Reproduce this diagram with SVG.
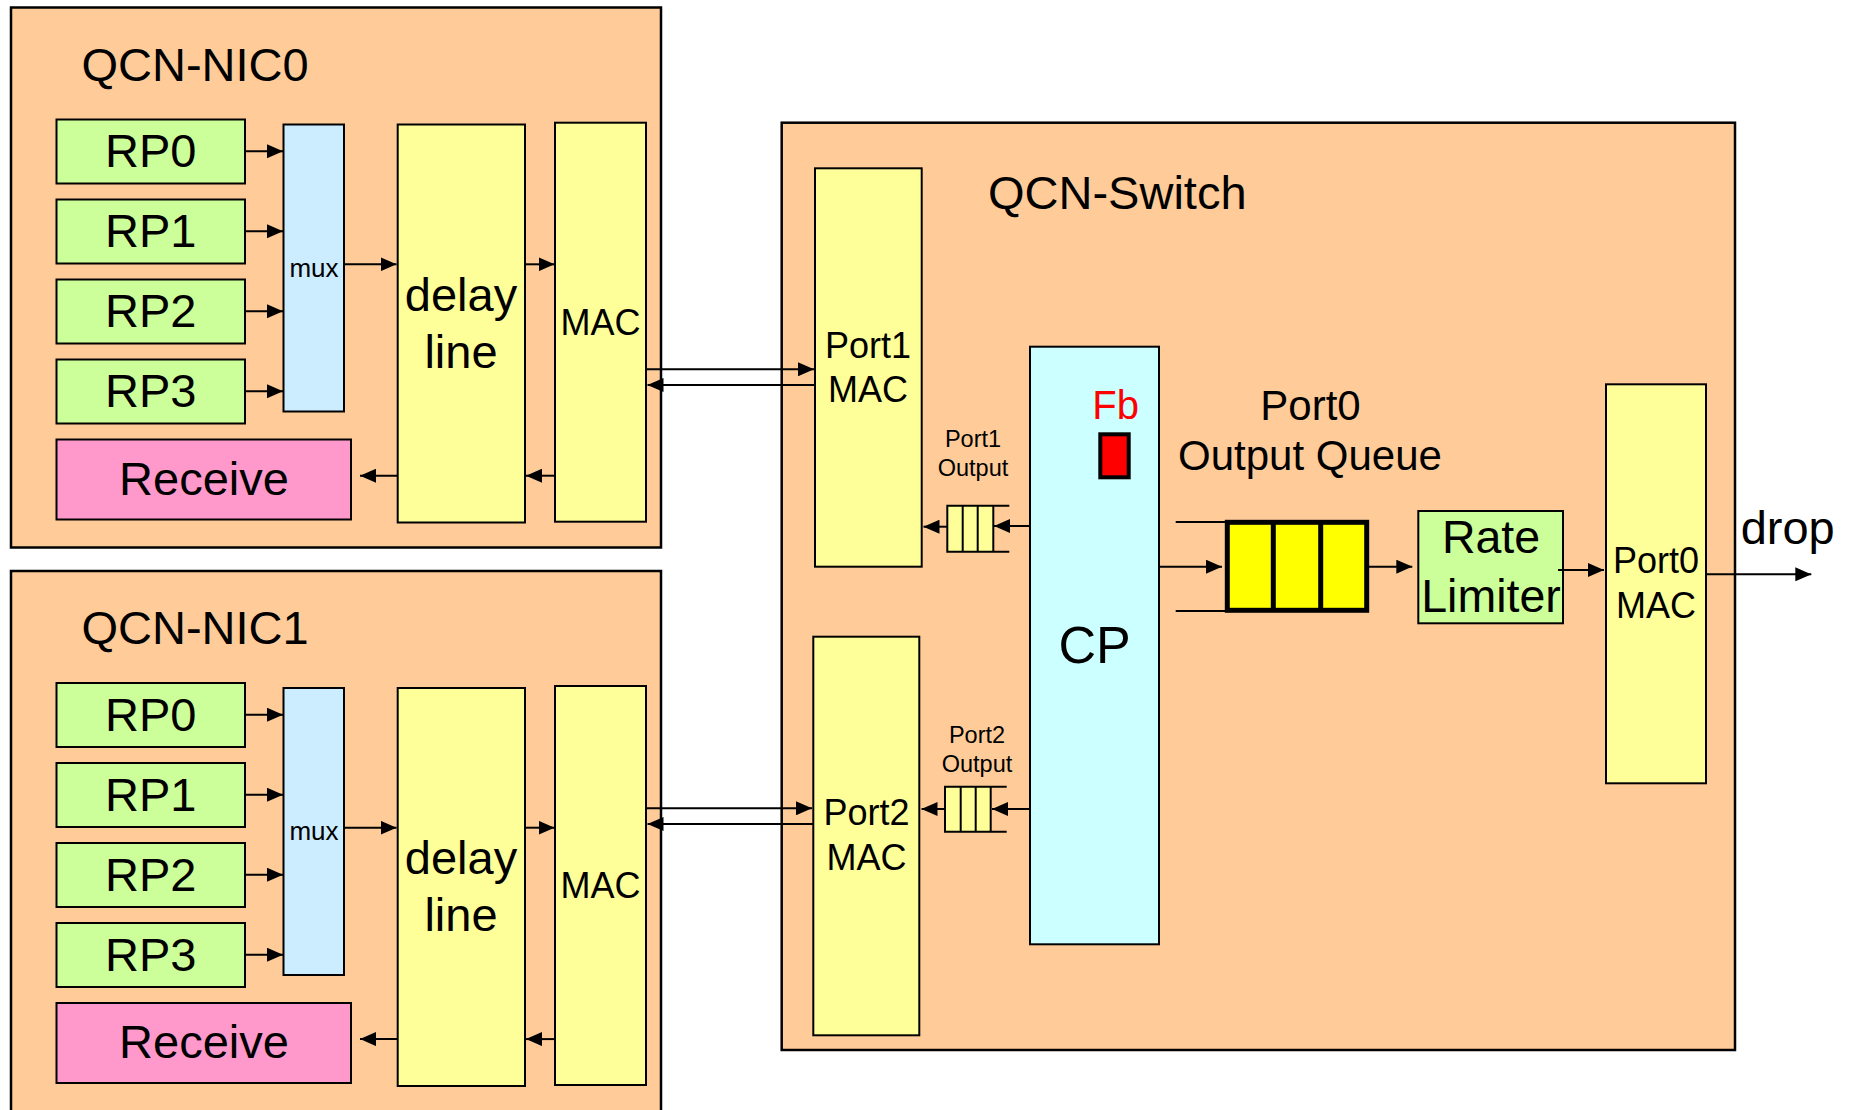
<svg xmlns="http://www.w3.org/2000/svg" width="1854" height="1110" viewBox="0 0 1854 1110">
<defs>
<marker id="ah" viewBox="0 0 16 14" refX="16" refY="7" markerWidth="16" markerHeight="14" markerUnits="userSpaceOnUse" orient="auto">
<path d="M0,0 L16,7 L0,14 z" fill="#000"/>
</marker>
</defs>
<style>
text{font-family:"Liberation Sans",Arial,sans-serif;fill:#000}
.c{text-anchor:middle}
.outer{fill:#FFCC99;stroke:#000;stroke-width:2.5}
.rp{fill:#CCFF99;stroke:#000;stroke-width:2}
.yl{fill:#FFFF99;stroke:#000;stroke-width:2}
.mux{fill:#CCECFF;stroke:#000;stroke-width:2}
.rcv{fill:#FF99CC;stroke:#000;stroke-width:2}
.cp{fill:#CCFFFF;stroke:#000;stroke-width:2}
.ln{stroke:#000;stroke-width:2;fill:none}
.ar{stroke:#000;stroke-width:2;fill:none;marker-end:url(#ah)}
.f47{font-size:47px}
.f36{font-size:36px}
.f23{font-size:23.5px}
</style>
<rect width="1854" height="1110" fill="#fff"/>

<g id="nic0">
<rect class="outer" x="11" y="7.5" width="650" height="540"/>
<text class="f47" x="81.5" y="80.5">QCN-NIC0</text>
<g id="nic0-rp0"><rect class="rp" x="56.5" y="119.5" width="188.5" height="64"/><text class="f47 c" x="150.7" y="167.3">RP0</text></g>
<g id="nic0-rp1"><rect class="rp" x="56.5" y="199.5" width="188.5" height="64"/><text class="f47 c" x="150.7" y="247.3">RP1</text></g>
<g id="nic0-rp2"><rect class="rp" x="56.5" y="279.5" width="188.5" height="64"/><text class="f47 c" x="150.7" y="327.3">RP2</text></g>
<g id="nic0-rp3"><rect class="rp" x="56.5" y="359.5" width="188.5" height="64"/><text class="f47 c" x="150.7" y="407.3">RP3</text></g>
<g id="nic0-receive"><rect class="rcv" x="56.5" y="439.5" width="294.5" height="80"/><text class="f47 c" x="204" y="495">Receive</text></g>
<g id="nic0-mux"><rect class="mux" x="283.5" y="124.5" width="60.5" height="287"/><text class="c" font-size="26" x="314" y="276.7">mux</text></g>
<g id="nic0-delay"><rect class="yl" x="397.7" y="124.5" width="127.3" height="398"/><text class="f47 c" x="461" y="310.7">delay</text><text class="f47 c" x="461" y="367.7">line</text></g>
<g id="nic0-mac"><rect class="yl" x="555" y="122.7" width="91" height="399"/><text class="f36 c" x="600.5" y="335">MAC</text></g>
</g>

<g id="nic1">
<rect class="outer" x="11" y="571" width="650" height="545"/>
<text class="f47" x="81.5" y="644">QCN-NIC1</text>
<g id="nic1-rp0"><rect class="rp" x="56.5" y="683" width="188.5" height="64"/><text class="f47 c" x="150.7" y="730.7">RP0</text></g>
<g id="nic1-rp1"><rect class="rp" x="56.5" y="763" width="188.5" height="64"/><text class="f47 c" x="150.7" y="810.7">RP1</text></g>
<g id="nic1-rp2"><rect class="rp" x="56.5" y="843" width="188.5" height="64"/><text class="f47 c" x="150.7" y="890.7">RP2</text></g>
<g id="nic1-rp3"><rect class="rp" x="56.5" y="923" width="188.5" height="64"/><text class="f47 c" x="150.7" y="970.7">RP3</text></g>
<g id="nic1-receive"><rect class="rcv" x="56.5" y="1003" width="294.5" height="80"/><text class="f47 c" x="204" y="1058.4">Receive</text></g>
<g id="nic1-mux"><rect class="mux" x="283.5" y="688" width="60.5" height="287"/><text class="c" font-size="26" x="314" y="840.1">mux</text></g>
<g id="nic1-delay"><rect class="yl" x="397.7" y="688" width="127.3" height="398"/><text class="f47 c" x="461" y="874.1">delay</text><text class="f47 c" x="461" y="931.1">line</text></g>
<g id="nic1-mac"><rect class="yl" x="555" y="686" width="91" height="399"/><text class="f36 c" x="600.5" y="898.4">MAC</text></g>
</g>

<g id="switch">
<rect class="outer" x="781.7" y="122.7" width="953.3" height="927.3"/>
<text class="f47" x="988" y="209.3">QCN-Switch</text>
<g id="port1-mac"><rect class="yl" x="815" y="168.3" width="106.7" height="398.4"/><text class="f36 c" x="868" y="357.7">Port1</text><text class="f36 c" x="868" y="401.7">MAC</text></g>
<g id="port2-mac"><rect class="yl" x="813.3" y="636.7" width="106" height="398.6"/><text class="f36 c" x="866.5" y="825">Port2</text><text class="f36 c" x="866.5" y="870">MAC</text></g>
<g id="port1-output">
<text class="f23 c" x="973" y="446.7">Port1</text><text class="f23 c" x="973" y="476">Output</text>
<rect x="947.3" y="505.7" width="46" height="46" fill="#FFFF99"/>
<path class="ln" d="M1009.3,505.7 H947.3 V551.7 H1009.3 M962.7,505.7 V551.7 M977.7,505.7 V551.7 M993.3,505.7 V551.7"/>
</g>
<g id="port2-output">
<text class="f23 c" x="977" y="742.7">Port2</text><text class="f23 c" x="977" y="771.7">Output</text>
<rect x="945" y="786.7" width="45.7" height="45" fill="#FFFF99"/>
<path class="ln" d="M1006.7,786.7 H945 V831.7 H1006.7 M960.7,786.7 V831.7 M975.7,786.7 V831.7 M990.7,786.7 V831.7"/>
</g>
<g id="cp"><rect class="cp" x="1030" y="346.7" width="129" height="597.6"/><text class="c" font-size="52" x="1094.5" y="662.7">CP</text>
<text class="c" font-size="40" x="1115.7" y="419.3" style="fill:#FF0000">Fb</text>
<rect x="1100.3" y="434.3" width="28.4" height="43" fill="#FF0000" stroke="#000" stroke-width="4"/>
</g>
<g id="port0-queue">
<text class="c" font-size="42" x="1310.5" y="420">Port0</text><text class="c" font-size="42" x="1310" y="470">Output Queue</text>
<path class="ln" d="M1175.7,522 H1227 M1175.7,611 H1227"/>
<rect x="1227.3" y="522.3" width="139.4" height="88" fill="#FFFF00" stroke="#000" stroke-width="5"/>
<path d="M1273.3,522.3 V610.3 M1320.7,522.3 V610.3" stroke="#000" stroke-width="5"/>
</g>
<g id="rate-limiter"><rect class="rp" x="1418.3" y="511" width="144.7" height="112.3"/><text class="c" font-size="46.5" x="1491" y="553.3">Rate</text><text class="c" font-size="46.5" x="1491" y="611.7">Limiter</text></g>
<g id="port0-mac"><rect class="yl" x="1606" y="384.3" width="100" height="399"/><text class="f36 c" x="1656" y="573.3">Port0</text><text class="f36 c" x="1656" y="617.7">MAC</text></g>
</g>

<text class="f47" x="1740.7" y="544">drop</text>

<g id="connectors">
<line class="ar" x1="245" y1="151.3" x2="283" y2="151.3"/>
<line class="ar" x1="245" y1="231.3" x2="283" y2="231.3"/>
<line class="ar" x1="245" y1="311.3" x2="283" y2="311.3"/>
<line class="ar" x1="245" y1="391.3" x2="283" y2="391.3"/>
<line class="ar" x1="344" y1="264.3" x2="396.5" y2="264.3"/>
<line class="ar" x1="525" y1="264.3" x2="554.5" y2="264.3"/>
<line class="ar" x1="555" y1="475.7" x2="526" y2="475.7"/>
<line class="ar" x1="397.7" y1="475.7" x2="360" y2="475.7"/>

<line class="ar" x1="245" y1="714.7" x2="283" y2="714.7"/>
<line class="ar" x1="245" y1="794.7" x2="283" y2="794.7"/>
<line class="ar" x1="245" y1="874.7" x2="283" y2="874.7"/>
<line class="ar" x1="245" y1="954.7" x2="283" y2="954.7"/>
<line class="ar" x1="344" y1="827.7" x2="396.5" y2="827.7"/>
<line class="ar" x1="525" y1="827.7" x2="554.5" y2="827.7"/>
<line class="ar" x1="555" y1="1039.1" x2="526" y2="1039.1"/>
<line class="ar" x1="397.7" y1="1039.1" x2="360" y2="1039.1"/>

<line class="ar" x1="646" y1="369.3" x2="814" y2="369.3"/>
<line class="ar" x1="815" y1="385" x2="647.5" y2="385"/>
<line class="ar" x1="646" y1="808.3" x2="812" y2="808.3"/>
<line class="ar" x1="813.3" y1="824" x2="647.5" y2="824"/>

<line class="ar" x1="1030" y1="526" x2="994" y2="526"/>
<line class="ar" x1="947.3" y1="526.7" x2="923.5" y2="526.7"/>
<line class="ar" x1="1030" y1="809" x2="992" y2="809"/>
<line class="ar" x1="945" y1="809" x2="921.5" y2="809"/>

<line class="ar" x1="1159" y1="566.7" x2="1222" y2="566.7"/>
<line class="ar" x1="1369" y1="566.7" x2="1412.3" y2="566.7"/>
<line class="ar" x1="1558" y1="570" x2="1604" y2="570"/>
<line class="ar" x1="1706" y1="574.3" x2="1811.3" y2="574.3" stroke-width="1.6"/>
</g>
</svg>
